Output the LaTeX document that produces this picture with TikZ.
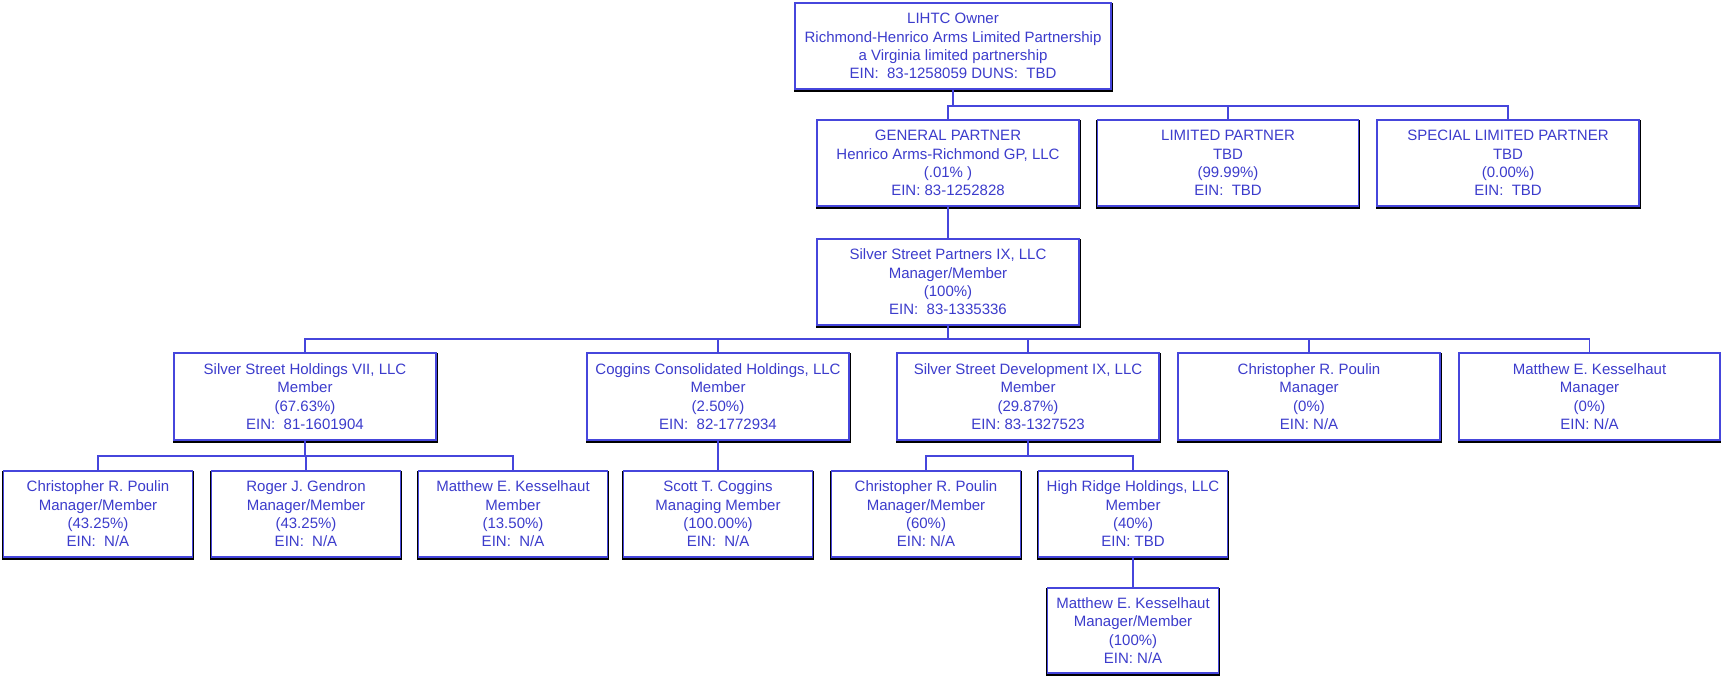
\documentclass[tikz,border=0pt]{standalone}
\usepackage{fontspec}
\setmainfont{Liberation Sans}
\definecolor{txtblue}{RGB}{60,60,204}
\definecolor{lineblue}{RGB}{70,70,220}
\tikzset{
  orgbox/.style={rectangle, draw=lineblue, line width=1.3pt, fill=white,
    text=txtblue, inner sep=0pt, align=center,
    font=\fontsize{15}{18.3}\selectfont,
    minimum height=86pt,
    preaction={draw=black, line width=3pt, transform canvas={xshift=0.3pt,yshift=-1.5pt}}},
  wbig/.style={minimum width=262pt},
  wtop/.style={minimum width=316pt},
  wsmall/.style={minimum width=189pt},
  wl5/.style={minimum width=171pt},
  conn/.style={draw=lineblue, line width=1.1pt}
}
\begin{document}
\begin{tikzpicture}[x=1pt,y=-1pt]
\useasboundingbox (0,0) rectangle (1721,678);

% level 1
\node[orgbox,wtop] (top) at (953,46) {LIHTC Owner\\Richmond-Henrico Arms Limited Partnership\\a Virginia limited partnership\\EIN:\ \ 83-1258059 DUNS:\ \ TBD};

% level 2
\node[orgbox,wbig] (gp) at (948,163) {GENERAL PARTNER\\Henrico Arms-Richmond GP, LLC\\(.01\%~)\\EIN: 83-1252828};
\node[orgbox,wbig,minimum width=261pt] (lp) at (1228,163) {LIMITED PARTNER\\TBD\\(99.99\%)\\EIN:\ \ TBD};
\node[orgbox,wbig] (slp) at (1508,163) {SPECIAL LIMITED PARTNER\\TBD\\(0.00\%)\\EIN:\ \ TBD};

% silver street partners
\node[orgbox,wbig] (ssp) at (948,282) {Silver Street Partners IX, LLC\\Manager/Member\\(100\%)\\EIN:\ \ 83-1335336};

% level 3
\node[orgbox,wbig,minimum height=87pt] (ssh) at (305,396.5) {Silver Street Holdings VII, LLC\\Member\\(67.63\%)\\EIN:\ \ 81-1601904};
\node[orgbox,wbig,minimum height=87pt] (cch) at (718,396.5) {Coggins Consolidated Holdings, LLC\\Member\\(2.50\%)\\EIN:\ \ 82-1772934};
\node[orgbox,wbig,minimum height=87pt] (ssd) at (1028,396.5) {Silver Street Development IX, LLC\\Member\\(29.87\%)\\EIN: 83-1327523};
\node[orgbox,wbig,minimum height=87pt] (crp) at (1309,396.5) {Christopher R. Poulin\\Manager\\(0\%)\\EIN: N/A};
\node[orgbox,wbig,minimum height=87pt,minimum width=261pt] (mek) at (1589.5,396.5) {Matthew E. Kesselhaut\\Manager\\(0\%)\\EIN: N/A};

% level 4
\node[orgbox,wsmall] (c1) at (98,514) {Christopher R. Poulin\\Manager/Member\\(43.25\%)\\EIN:\ \ N/A};
\node[orgbox,wsmall] (c2) at (306,514) {Roger J. Gendron\\Manager/Member\\(43.25\%)\\EIN:\ \ N/A};
\node[orgbox,wsmall] (c3) at (513,514) {Matthew E. Kesselhaut\\Member\\(13.50\%)\\EIN:\ \ N/A};
\node[orgbox,wsmall] (c4) at (718,514) {Scott T. Coggins\\Managing Member\\(100.00\%)\\EIN:\ \ N/A};
\node[orgbox,wsmall] (c5) at (926,514) {Christopher R. Poulin\\Manager/Member\\(60\%)\\EIN: N/A};
\node[orgbox,wsmall] (c6) at (1133,514) {High Ridge Holdings, LLC\\Member\\(40\%)\\EIN: TBD};

% level 5
\node[orgbox,wl5,minimum height=85pt] (l5) at (1133,630.5) {Matthew E. Kesselhaut\\Manager/Member\\(100\%)\\EIN: N/A};

% bar levels
\coordinate (b1) at (0,106);
\coordinate (b2) at (0,339);
\coordinate (b3) at (0,456);

% connectors
\draw[conn] (top.south) -- (top.south |- b1);
\draw[conn] (gp.north) |- (slp.north |- b1) -- (slp.north);
\draw[conn] (lp.north) -- (lp.north |- b1);

\draw[conn] (gp.south) -- (ssp.north);

\draw[conn] (ssp.south) -- (ssp.south |- b2);
\draw[conn] (ssh.north) |- (mek.north |- b2) -- (mek.north);
\draw[conn] (cch.north) -- (cch.north |- b2);
\draw[conn] (ssd.north) -- (ssd.north |- b2);
\draw[conn] (crp.north) -- (crp.north |- b2);

\draw[conn] (ssh.south) -- (ssh.south |- b3);
\draw[conn] (c1.north) |- (c3.north |- b3) -- (c3.north);
\draw[conn] (c2.north) -- (c2.north |- b3);

\draw[conn] (cch.south) -- (c4.north);

\draw[conn] (ssd.south) -- (ssd.south |- b3);
\draw[conn] (c5.north) |- (c6.north |- b3) -- (c6.north);

\draw[conn] (c6.south) -- (l5.north);
\end{tikzpicture}
\end{document}
